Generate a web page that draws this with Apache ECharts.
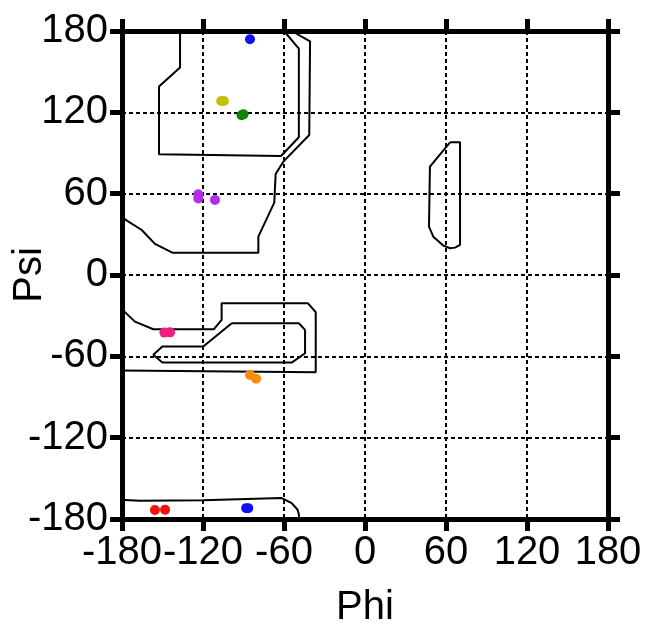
<!DOCTYPE html>
<html>
<head>
<meta charset="utf-8">
<script src="https://cdn.jsdelivr.net/npm/echarts@6/dist/echarts.min.js"></script>
<style>html,body{margin:0;padding:0;background:#fff;}#c{width:645px;height:633px;}</style>
</head>
<body>
<div id="c"></div>
<script>
var tickValues = [-180, -120, -60, 0, 60, 120, 180];
var xTitle = 'Phi';
var yTitle = 'Psi';

// contour lines [phi, psi]
var betaInner = [[-137,180],[-137,153],[-152.6,139],[-152.6,89],[-62.2,87.8],[-49,101.6],[-49,167],[-60,180]];
var betaOuter = [[-54.3,180],[-40.7,172.4],[-41.3,103.3],[-60.5,83.6],[-66.2,74.5],[-67.2,53.4],[-79,28.3],[-79,16.5],[-142.7,16.5],[-155.6,23],[-165.4,33.2],[-177.8,41.1],[-180,42]];
var alphaOuter = [[-180,-26],[-177.8,-27.4],[-170.4,-34.4],[-156.8,-40],[-111.9,-40],[-106.2,-33.1],[-106.2,-20.8],[-42.4,-20.8],[-36.5,-27.4],[-36.5,-71.7],[-180,-70.5]];
var alphaInner = [[-98.7,-35.6],[-49,-35.6],[-44.4,-40.5],[-44.4,-57.7],[-54.3,-64.6],[-150.1,-64.6],[-156.8,-58.9],[-150.1,-52.8],[-119.8,-52.8],[-98.7,-35.6]];
var bottomOuter = [[-180,-166],[-177.8,-165.9],[-166.7,-166.6],[-120,-166.2],[-61.7,-164.6],[-54.3,-168.3],[-49.9,-173.2],[-48.9,-177],[-48.8,-180]];
var leftHanded = [[63,97.9],[70.4,97.9],[70.4,22.2],[66.7,20.2],[63,19.7],[58,21.7],[50.6,28.3],[47.4,35.7],[48.1,80],[63,97.9]];

// residues [phi, psi]
var bluePts = [[-85.2,173.9],[-88,-172],[-86.5,-172]];
var yellowPts = [[-106.5,128.4],[-104.5,128.4]];
var greenPts = [[-91.5,117.8],[-90,118.5]];
var purplePts = [[-123.5,59.5],[-123.5,56.5],[-111.1,55.4]];
var pinkPts = [[-148.6,-42.5],[-144.4,-42.3]];
var orangePts = [[-85.2,-73.7],[-80.7,-76.6]];
var redPts = [[-155.6,-173.4],[-148.1,-173.2]];

var contours = [betaInner, betaOuter, alphaOuter, alphaInner, bottomOuter, leftHanded];
var pointSets = [
  [bluePts, '#1010f5'], [yellowPts, '#c2c000'], [greenPts, '#0a850a'],
  [purplePts, '#b22ee6'], [pinkPts, '#f01e7c'], [orangePts, '#ff8a10'], [redPts, '#f51010']
];

var FONT = 'Liberation Sans';
var FS = 40;
function axisCommon(extra) {
  var a = {
    type: 'value', min: -180, max: 180, interval: 60,
    axisLine: { show: true, onZero: false, lineStyle: { color: '#000', width: 5 } },
    axisTick: { show: true, inside: false, length: 12, lineStyle: { color: '#000', width: 5 } },
    axisLabel: { show: true, color: '#000', fontFamily: FONT, fontSize: FS, margin: 14,
      showMinLabel: true, showMaxLabel: true, hideOverlap: false },
    splitLine: { show: false }
  };
  for (var k in extra) a[k] = extra[k];
  return a;
}

var series = [];
contours.forEach(function (c) {
  series.push({ type: 'line', data: c, symbol: 'none', silent: true, z: 3,
    lineStyle: { color: '#000', width: 2 }, clip: false });
});
pointSets.forEach(function (p) {
  series.push({ type: 'scatter', data: p[0], symbol: 'circle', symbolSize: 10, z: 4,
    itemStyle: { color: p[1], opacity: 1 } });
});

var chart = echarts.init(document.getElementById('c'), null, { renderer: 'canvas' });
chart.setOption({
  animation: false,
  backgroundColor: '#fff',
  grid: { left: 122, right: 37, top: 31, bottom: 114, containLabel: false, outerBoundsMode: 'none' },
  xAxis: [
    axisCommon({ position: 'bottom', name: xTitle, nameLocation: 'middle', nameGap: 69, nameMoveOverlap: false,
      nameTextStyle: { color: '#000', fontFamily: FONT, fontSize: FS },
      splitLine: { show: true, lineStyle: { color: '#000', width: 2, type: [4, 3] } } }),
    axisCommon({ position: 'top', axisLabel: { show: false } })
  ],
  yAxis: [
    axisCommon({ position: 'left', name: yTitle, nameLocation: 'middle', nameGap: 72, nameMoveOverlap: false,
      nameTextStyle: { color: '#000', fontFamily: FONT, fontSize: FS },
      splitLine: { show: true, lineStyle: { color: '#000', width: 2, type: [4, 3] } } }),
    axisCommon({ position: 'right', axisLabel: { show: false } })
  ],
  series: series
});
</script>
</body>
</html>
